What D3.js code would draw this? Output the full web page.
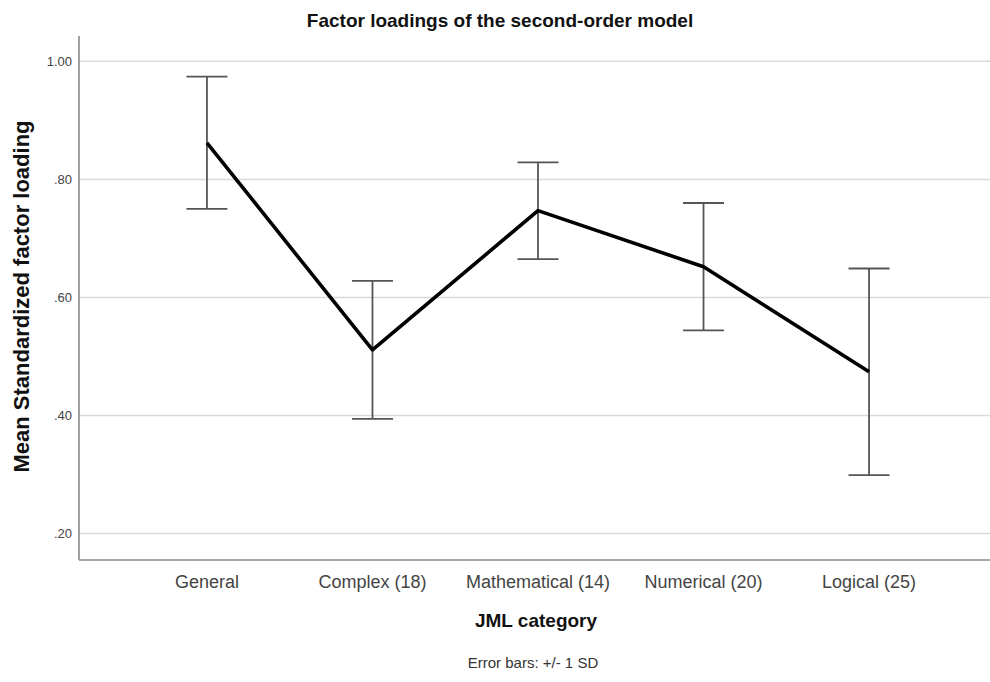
<!DOCTYPE html>
<html lang="en">

<head>
    <meta charset="UTF-8">
    <title>Factor loadings</title>
    <style>
        body {
            margin: 0;
            background: white;
        }

        text {
            font-family: 'Liberation Sans', Arial, sans-serif;
        }

        .grid line {
            stroke: #d9d9d9;
            stroke-width: 1.5px;
        }

        .tick-label {
            font-size: 13px;
            fill: #444;
        }

        .cat-label {
            font-size: 18px;
            fill: #444;
        }
    </style>
</head>

<body>
    <div class="fig"></div>

    <script src="https://d3js.org/d3.v7.min.js"></script>
    <script>
        // Data
        const categories = ["General", "Complex (18)", "Mathematical (14)", "Numerical (20)", "Logical (25)"];
        const means = [0.862, 0.511, 0.747, 0.652, 0.474];
        const sds = [0.112, 0.117, 0.082, 0.108, 0.175];
        const yTicks = [0.20, 0.40, 0.60, 0.80, 1.00];
        const yTickLabels = [".20", ".40", ".60", ".80", "1.00"];

        const width = 990;
        const height = 682;
        const plot = { left: 79, top: 36, right: 990, bottom: 560 };

        const svg = d3.select(".fig").append("svg")
            .attr("width", width)
            .attr("height", height);

        // Scales
        const x = d3.scalePoint()
            .domain(categories)
            .range([plot.left, 997])
            .padding(0.773);

        const y = d3.scaleLinear()
            .domain([0.155, 1.043])
            .range([plot.bottom, plot.top]);

        // Gridlines
        svg.append("g")
            .attr("class", "grid")
            .selectAll("line")
            .data(yTicks)
            .join("line")
            .attr("x1", plot.left)
            .attr("x2", plot.right)
            .attr("y1", d => y(d))
            .attr("y2", d => y(d));

        // Axes lines
        svg.append("line")
            .attr("x1", plot.left).attr("x2", plot.left)
            .attr("y1", plot.top).attr("y2", plot.bottom)
            .attr("stroke", "#8a8a8a")
            .attr("stroke-width", 1.6);

        svg.append("line")
            .attr("x1", plot.left).attr("x2", plot.right)
            .attr("y1", plot.bottom).attr("y2", plot.bottom)
            .attr("stroke", "#8a8a8a")
            .attr("stroke-width", 1.6);

        // Y tick labels
        svg.append("g")
            .selectAll("text")
            .data(yTicks)
            .join("text")
            .attr("class", "tick-label")
            .attr("x", 72)
            .attr("y", d => y(d))
            .attr("dy", "0.35em")
            .attr("text-anchor", "end")
            .text((d, i) => yTickLabels[i]);

        // X category labels
        svg.append("g")
            .selectAll("text")
            .data(categories)
            .join("text")
            .attr("class", "cat-label")
            .attr("x", d => x(d))
            .attr("y", 588)
            .attr("text-anchor", "middle")
            .text(d => d);

        // Error bars (+/- 1 SD)
        const rows = categories.map((c, i) => ({ cat: c, mean: means[i], sd: sds[i] }));
        const capHalf = 20.5;
        const bars = svg.append("g")
            .attr("stroke", "#555")
            .attr("stroke-width", 1.8);

        bars.selectAll(".stem")
            .data(rows)
            .join("line")
            .attr("class", "stem")
            .attr("x1", d => x(d.cat)).attr("x2", d => x(d.cat))
            .attr("y1", d => y(d.mean + d.sd)).attr("y2", d => y(d.mean - d.sd));

        bars.selectAll(".cap-top")
            .data(rows)
            .join("line")
            .attr("class", "cap-top")
            .attr("x1", d => x(d.cat) - capHalf).attr("x2", d => x(d.cat) + capHalf)
            .attr("y1", d => y(d.mean + d.sd)).attr("y2", d => y(d.mean + d.sd));

        bars.selectAll(".cap-bottom")
            .data(rows)
            .join("line")
            .attr("class", "cap-bottom")
            .attr("x1", d => x(d.cat) - capHalf).attr("x2", d => x(d.cat) + capHalf)
            .attr("y1", d => y(d.mean - d.sd)).attr("y2", d => y(d.mean - d.sd));

        // Mean line
        const line = d3.line()
            .x(d => x(d.cat))
            .y(d => y(d.mean));

        svg.append("path")
            .datum(rows)
            .attr("d", line)
            .attr("fill", "none")
            .attr("stroke", "black")
            .attr("stroke-width", 3.6)
            .attr("stroke-linejoin", "round");

        // Titles
        svg.append("text")
            .attr("x", 500)
            .attr("y", 27)
            .attr("text-anchor", "middle")
            .style("font-size", "19px")
            .style("font-weight", "bold")
            .attr("fill", "#111")
            .text("Factor loadings of the second-order model");

        svg.append("text")
            .attr("transform", "translate(28.5,296.5) rotate(-90)")
            .attr("text-anchor", "middle")
            .style("font-size", "22px")
            .style("font-weight", "bold")
            .attr("fill", "#111")
            .text("Mean Standardized factor loading");

        svg.append("text")
            .attr("x", 536)
            .attr("y", 627)
            .attr("text-anchor", "middle")
            .style("font-size", "19px")
            .style("font-weight", "bold")
            .attr("fill", "#111")
            .text("JML category");

        svg.append("text")
            .attr("x", 533)
            .attr("y", 668)
            .attr("text-anchor", "middle")
            .style("font-size", "15px")
            .attr("fill", "#333")
            .text("Error bars: +/- 1 SD");
    </script>
</body>

</html>
